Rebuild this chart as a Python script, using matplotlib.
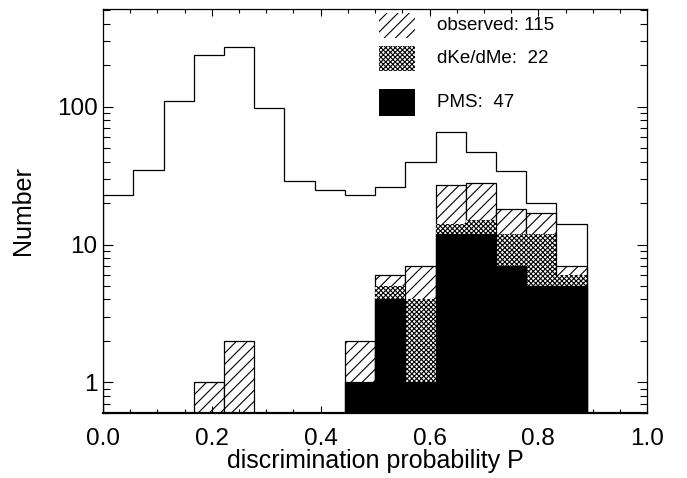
import numpy as np
import matplotlib
matplotlib.use('Agg')
import matplotlib.pyplot as plt
from matplotlib.patches import Rectangle

plt.rcParams['font.family'] = ['Liberation Sans', 'DejaVu Sans']
plt.rcParams['hatch.linewidth'] = 0.8

# 16 bins of width 1/18 covering 0 .. 0.889
edges = np.arange(17) / 18.0
total = [23, 35, 110, 235, 272, 98, 29, 25, 23, 26, 40, 66, 47, 34, 20, 14]
observed = [0, 0, 0, 1, 2, 0, 0, 0, 2, 6, 7, 27, 28, 18, 17, 7]
dke = [0, 0, 0, 0, 0, 0, 0, 0, 0, 1, 3, 2, 3, 5, 7, 1]
pms = [0, 0, 0, 0, 0, 0, 0, 0, 1, 4, 1, 12, 12, 7, 5, 5]

width = edges[1] - edges[0]
left = edges[:-1]
observed = np.array(observed)
dke = np.array(dke)
pms = np.array(pms)

OBS_HATCH = '///'
DKE_HATCH = 'xxxxxxx'

fig = plt.figure(figsize=(6.87, 4.78), dpi=100)
ax = fig.add_axes([0.150, 0.136, 0.792, 0.845])
ax.set_yscale('log')

m = observed > 0
ax.bar(left[m], observed[m], width, align='edge', color='white',
       edgecolor='k', linewidth=0.9, hatch=OBS_HATCH)
m = dke > 0
ax.bar(left[m], dke[m], width, bottom=pms[m], align='edge', color='white',
       edgecolor='k', linewidth=0, hatch=DKE_HATCH)
m = pms > 0
ax.bar(left[m], pms[m], width, align='edge', color='k', edgecolor='k',
       linewidth=0.9)

ax.stairs(total, edges, baseline=0.6, color='k', linewidth=0.9)

ax.set_xlim(0, 1)
ax.set_ylim(0.6, 510)
ax.set_xticks(np.arange(0, 1.01, 0.2))
ax.set_xticks(np.arange(0, 1.01, 0.05), minor=True)
ax.set_xticklabels(['%.1f' % v for v in np.arange(0, 1.01, 0.2)])
ax.set_yticks([1, 10, 100])
ax.set_yticklabels(['1', '10', '100'])
ax.tick_params(which='both', direction='in', top=True, right=True,
               labelsize=17.5, width=0.8)
ax.tick_params(axis='x', which='major', length=5, pad=11)
ax.tick_params(axis='x', which='minor', length=3)
ax.tick_params(axis='y', which='major', length=7.5, pad=4)
ax.tick_params(axis='y', which='minor', length=5)
for s in ['left', 'right', 'top']:
    ax.spines[s].set_linewidth(0.9)
ax.spines['bottom'].set_linewidth(1.6)

ax.set_xlabel('discrimination probability P', fontsize=18)
ax.set_ylabel('Number', fontsize=18)
ax.xaxis.set_label_coords(0.5, -0.09)
ax.yaxis.set_label_coords(-0.125, 0.5)

# legend swatches
sx, sw = 0.507, 0.066
rows = [(0.928, 0.062, 'white', OBS_HATCH, 'observed: %d' % observed.sum()),
        (0.847, 0.061, 'white', DKE_HATCH, 'dKe/dMe:  %d' % dke.sum()),
        (0.735, 0.067, 'k', None, 'PMS:  %d' % pms.sum())]
for y0, h, fc, hatch, label in rows:
    ax.add_patch(Rectangle((sx, y0), sw, h, transform=ax.transAxes,
                           facecolor=fc, edgecolor='k', linewidth=0,
                           hatch=hatch, clip_on=False))
    ax.text(0.614, y0 + h / 2, label, transform=ax.transAxes,
            fontsize=13.5, va='center', ha='left')

fig.savefig('out.png', dpi=100)
